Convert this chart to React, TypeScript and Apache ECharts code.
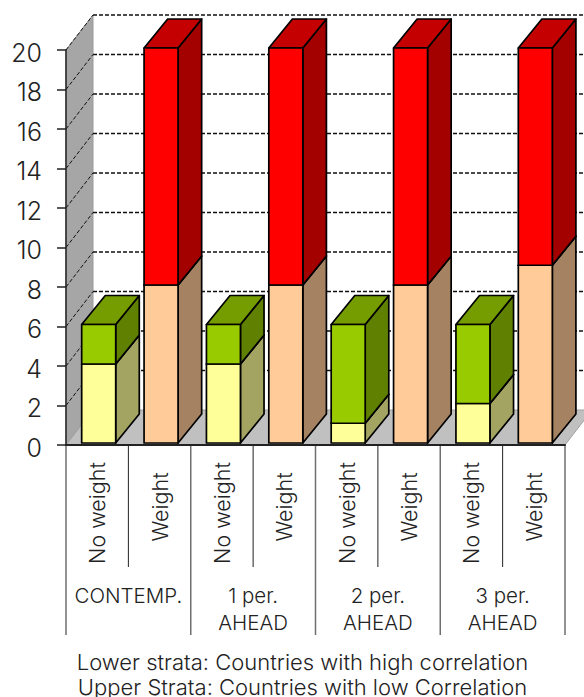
import React, { useEffect, useRef } from "react";
import * as echarts from "echarts";

// Stacked columns, drawn as extruded boxes on a walled floor.
const barLabels = ["No weight", "Weight", "No weight", "Weight", "No weight", "Weight", "No weight", "Weight"];
const groupLabels = ["CONTEMP.", "1 per.\nAHEAD", "2 per.\nAHEAD", "3 per.\nAHEAD"];
const lowerStrata = [4, 8, 4, 8, 1, 8, 2, 9];
const upperStrata = [2, 12, 2, 12, 5, 12, 4, 11];
const wallTicks = [2, 4, 6, 8, 10, 12, 14, 16, 18, 20];
const dividerSlots = [0, 1, 2, 3, 4, 5, 6, 7, 8];
const footerLines = ["Lower strata: Countries with high correlation", "Upper Strata: Countries with low Correlation"];

const FONT = "Inter";
const WALL_DX = 27;
const WALL_DY = -35;
const BOX_DX = 23.6;
const BOX_DY = -29;
const BOX_WIDTH = 34;
const BOX_SHIFT_X = 1.5;
const BOX_SHIFT_Y = -2;
const BAR_TICK = 122;
const GROUP_TICK = 190;

const lowerColors = [
  { front: "#FFFF99", side: "#A3A362", top: "#C4C476" },
  { front: "#FFCC99", side: "#A58262", top: "#C49D76" },
];
const upperColors = [
  { front: "#99CC00", side: "#5F8000", top: "#769D00" },
  { front: "#FF0000", side: "#A30000", top: "#C40000" },
];

const labelFace = { fontFamily: FONT, fontWeight: 300, fontSize: 21.5, color: "#222" };

function boxItem(palette: typeof lowerColors) {
  return (_params: any, api: any) => {
    const i = api.value(0);
    const base = api.coord([i, api.value(1)]);
    const head = api.coord([i, api.value(2)]);
    const c = palette[i % 2];
    const l = base[0] - BOX_WIDTH / 2 + BOX_SHIFT_X;
    const r = l + BOX_WIDTH;
    const b = base[1] + BOX_SHIFT_Y;
    const t = head[1] + BOX_SHIFT_Y;
    const edge = { stroke: "#000", lineWidth: 1.7, lineJoin: "round" };
    return {
      type: "group",
      children: [
        {
          type: "polygon",
          shape: { points: [[r, b], [r + BOX_DX, b + BOX_DY], [r + BOX_DX, t + BOX_DY], [r, t]] },
          style: { fill: c.side, ...edge },
        },
        {
          type: "polygon",
          shape: { points: [[l, t], [r, t], [r + BOX_DX, t + BOX_DY], [l + BOX_DX, t + BOX_DY]] },
          style: { fill: c.top, ...edge },
        },
        {
          type: "polygon",
          shape: { points: [[l, b], [r, b], [r, t], [l, t]] },
          style: { fill: c.front, ...edge },
        },
      ],
    };
  };
}

function wallsItem(params: any, api: any) {
  const g = params.coordSys;
  const y0 = api.coord([0, 0])[1];
  const y20 = api.coord([0, 20])[1];
  const x0 = g.x;
  const x1 = g.x + g.width;
  return {
    type: "group",
    children: [
      {
        type: "polygon",
        shape: { points: [[x0, y0], [x0 + WALL_DX, y0 + WALL_DY], [x0 + WALL_DX, y20 + WALL_DY], [x0, y20]] },
        style: { fill: "#A6A6A6", stroke: "#9A9A9A", lineWidth: 1 },
      },
      {
        type: "polygon",
        shape: { points: [[x0, y0], [x1, y0], [x1 + WALL_DX, y0 + WALL_DY], [x0 + WALL_DX, y0 + WALL_DY]] },
        style: { fill: "#C0C0C0", stroke: "#A0A0A0", lineWidth: 1 },
      },
    ],
  };
}

function wallGridItem(params: any, api: any) {
  const g = params.coordSys;
  const y = api.coord([0, api.value(0)])[1];
  const dash = { stroke: "#111", lineWidth: 1.5, lineDash: [4, 2] };
  return {
    type: "group",
    children: [
      { type: "line", shape: { x1: g.x, y1: y, x2: g.x + WALL_DX, y2: y + WALL_DY }, style: { ...dash, lineWidth: 1 } },
      { type: "line", shape: { x1: g.x + WALL_DX, y1: y + WALL_DY, x2: g.x + g.width + WALL_DX, y2: y + WALL_DY }, style: dash },
    ],
  };
}

// Separators under the axis: short between bars, long between groups.
function dividerItem(params: any, api: any) {
  const g = params.coordSys;
  const slot = api.value(0);
  const x = g.x + (slot * g.width) / barLabels.length;
  const y = api.coord([0, 0])[1];
  const isGroupEdge = slot % 2 === 0;
  return {
    type: "line",
    shape: { x1: x, y1: y, x2: x, y2: y + (isGroupEdge ? GROUP_TICK : BAR_TICK) },
    style: { stroke: isGroupEdge ? "#6E6E6E" : "#222", lineWidth: isGroupEdge ? 1.5 : 1 },
  };
}

export default function App() {
  const ref = useRef<HTMLDivElement>(null);

  useEffect(() => {
    document.body.style.margin = "0";
    const chart = echarts.init(ref.current!, null, { renderer: "svg" });
    chart.setOption({
      animation: false,
      backgroundColor: "#fff",
      title: footerLines.map((line, i) => ({
        left: 302.5,
        top: 652 + i * 25,
        padding: 0,
        textAlign: "center",
        text: line,
        textStyle: { ...labelFace, fontSize: 22, lineHeight: 20 },
      })),
      grid: { left: 66, right: 19, top: 50, bottom: 252, containLabel: false },
      xAxis: [
        {
          type: "category",
          data: barLabels,
          position: "bottom",
          z: 5,
          axisLine: { show: true, lineStyle: { color: "#222", width: 2 } },
          axisTick: { show: false },
          axisLabel: {
            ...labelFace,
            interval: 0,
            rotate: 90,
            align: "center",
            verticalAlign: "middle",
            margin: 65,
            formatter: (value: string) => (value === "Weight" ? `{w|${value}}` : `{n|${value}}`),
            rich: {
              n: { ...labelFace, padding: [0, 6, 0, 0] },
              w: { ...labelFace, padding: [0, 0, 0, 6] },
            },
          },
        },
        {
          type: "category",
          data: groupLabels,
          position: "bottom",
          z: 4,
          axisLine: { show: false },
          axisTick: { show: false },
          axisLabel: {
            ...labelFace,
            fontSize: 20.5,
            interval: 0,
            margin: 137,
            lineHeight: 27,
            verticalAlign: "top",
          },
        },
      ],
      yAxis: {
        type: "value",
        min: 0,
        max: 20,
        interval: 2,
        z: 5,
        splitLine: { show: false },
        axisLine: { show: true, lineStyle: { color: "#222", width: 1.5 } },
        axisTick: { show: true, length: 9, lineStyle: { color: "#222", width: 1.5 } },
        axisLabel: { ...labelFace, margin: 24, fontSize: 25, align: "right", verticalAlign: "top", lineHeight: 5 },
      },
      series: [
        { type: "custom", silent: true, z: 1, renderItem: wallsItem, data: [[0, 0]], encode: { x: 0, y: 1 } },
        { type: "custom", silent: true, z: 1.5, renderItem: wallGridItem, data: wallTicks.map((v) => [v]), encode: { y: 0 } },
        { type: "custom", silent: true, z: 1.5, renderItem: dividerItem, data: dividerSlots.map((s) => [s]), encode: { x: 0 } },
        {
          type: "custom",
          name: "Lower strata",
          silent: true,
          z: 2,
          renderItem: boxItem(lowerColors),
          data: lowerStrata.map((v, i) => [i, 0, v]),
          encode: { x: 0, y: [1, 2] },
        },
        {
          type: "custom",
          name: "Upper strata",
          silent: true,
          z: 3,
          renderItem: boxItem(upperColors),
          data: upperStrata.map((v, i) => [i, lowerStrata[i], lowerStrata[i] + v]),
          encode: { x: 0, y: [1, 2] },
        },
      ],
    });
    return () => chart.dispose();
  }, []);

  return <div ref={ref} style={{ width: 584, height: 697, overflow: "hidden" }} />;
}
